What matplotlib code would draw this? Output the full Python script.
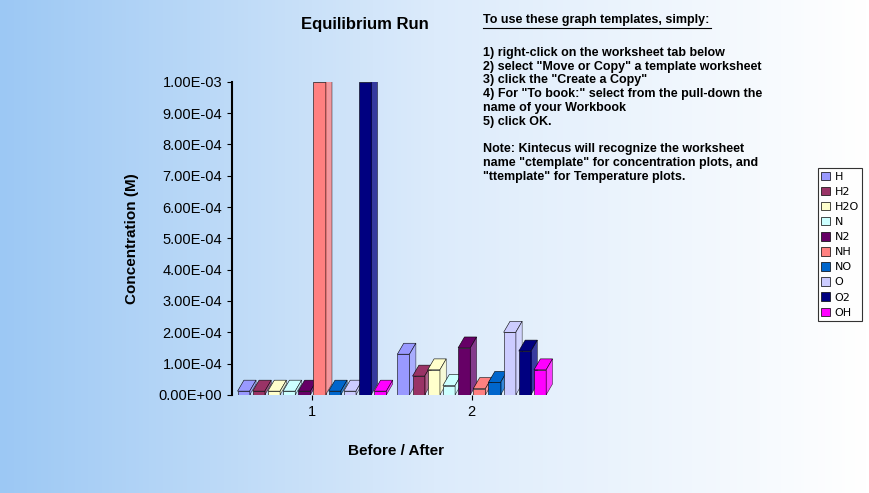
import numpy as np
import matplotlib
matplotlib.use("Agg")
import matplotlib.pyplot as plt
from matplotlib.patches import Polygon
from matplotlib.colors import LinearSegmentedColormap

categories = ["1", "2"]
series = ["H", "H2", "H2O", "N", "N2", "NH", "NO", "O", "O2", "OH"]
colors = ["#9999FF", "#993366", "#FFFFCC", "#CCFFFF", "#660066",
          "#FF8080", "#0066CC", "#CCCCFF", "#000080", "#FF00FF"]
values_1 = [0.0, 0.0, 0.0, 0.0, 0.0, 1.0e-3, 0.0, 0.0, 1.0e-3, 0.0]
values_2 = [1.3e-4, 0.6e-4, 0.8e-4, 0.3e-4, 1.5e-4, 0.2e-4, 0.4e-4, 2.0e-4, 1.4e-4, 0.8e-4]
yticks = [i * 1e-4 for i in range(11)]
ytick_labels = ["0.00E+00"] + [f"{i}.00E-04" for i in range(1, 10)] + ["1.00E-03"]

fig = plt.figure(figsize=(8.69, 4.93), dpi=100)
bg = fig.add_axes([0, 0, 1, 1], zorder=-10)
grad = np.linspace(0, 1, 256)[None, :]
cmap = LinearSegmentedColormap.from_list("bg", ["#9CC8F4", "#DCEBFB", "#FFFFFF"])
bg.imshow(grad, aspect="auto", cmap=cmap, extent=[0, 1, 0, 1])
bg.axis("off")

ax = fig.add_axes([0.267, 0.199, 0.377, 0.635])
ax.patch.set_alpha(0)
n = len(series)
w = 0.095
depth_x, depth_y = 0.04, 0.35e-4
for gi, vals in enumerate([values_1, values_2]):
    for si, (v, c) in enumerate(zip(vals, colors)):
        x = gi + 1 + (si - (n - 1) / 2) * w
        h = max(v, 0.12e-4)
        ax.bar(x, h, width=w * 0.8, color=c, edgecolor="black", linewidth=0.4, zorder=3)
        x0, x1 = x - w * 0.4, x + w * 0.4
        top = Polygon([[x0, h], [x1, h], [x1 + depth_x, h + depth_y], [x0 + depth_x, h + depth_y]],
                      closed=True, facecolor=c, edgecolor="black", linewidth=0.4, zorder=3)
        side = Polygon([[x1, 0], [x1 + depth_x, depth_y], [x1 + depth_x, h + depth_y], [x1, h]],
                       closed=True, facecolor=c, edgecolor="black", linewidth=0.4, zorder=3, alpha=0.75)
        ax.add_patch(top); ax.add_patch(side)

ax.set_xlim(0.5, 2.55)
ax.set_ylim(0, 1.0e-3)
ax.set_yticks(yticks)
ax.set_yticklabels(ytick_labels, fontsize=10.5, fontfamily="Liberation Sans")
ax.set_xticks([1, 2])
ax.set_xticklabels(categories, fontsize=10.5, fontfamily="Liberation Sans")
for s in ["top", "right"]:
    ax.spines[s].set_visible(False)
ax.spines["left"].set_linewidth(1.5)
ax.spines["bottom"].set_visible(False)
ax.set_ylabel("Concentration (M)", fontsize=11, fontweight="bold", fontfamily="Liberation Sans", labelpad=14)
ax.set_xlabel("Before / After", fontsize=11, fontweight="bold", fontfamily="Liberation Sans", labelpad=18)

fig.text(0.42, 0.95, "Equilibrium Run", fontsize=12, fontweight="bold", ha="center", va="center",
         fontfamily="Liberation Sans")
fig.text(0.556, 0.96, "To use these graph templates, simply:", fontsize=9, fontweight="bold",
         va="center", fontfamily="Liberation Sans")
fig.add_artist(plt.Line2D([0.556, 0.818], [0.944, 0.944], color="black", lw=0.8))
instructions = ("1) right-click on the worksheet tab below\n"
                "2) select \"Move or Copy\" a template worksheet\n"
                "3) click the \"Create a Copy\"\n"
                "4) For \"To book:\" select from the pull-down the\n"
                "name of your Workbook\n"
                "5) click OK.\n\n"
                "Note: Kintecus will recognize the worksheet\n"
                "name \"ctemplate\" for concentration plots, and\n"
                "\"ttemplate\" for Temperature plots.")
fig.text(0.556, 0.905, instructions, fontsize=9, fontweight="bold", va="top", linespacing=1.2,
         fontfamily="Liberation Sans")

handles = [plt.Rectangle((0, 0), 1, 1, facecolor=c, edgecolor="black", linewidth=0.5) for c in colors]
leg = fig.legend(handles, series, loc="upper left", bbox_to_anchor=(0.935, 0.67), fontsize=8,
                 frameon=True, fancybox=False, edgecolor="black", handlelength=0.8, handleheight=0.8,
                 labelspacing=0.45, borderpad=0.3, handletextpad=0.4)
leg.get_frame().set_linewidth(0.8)
fig.savefig("out.png", dpi=100)
